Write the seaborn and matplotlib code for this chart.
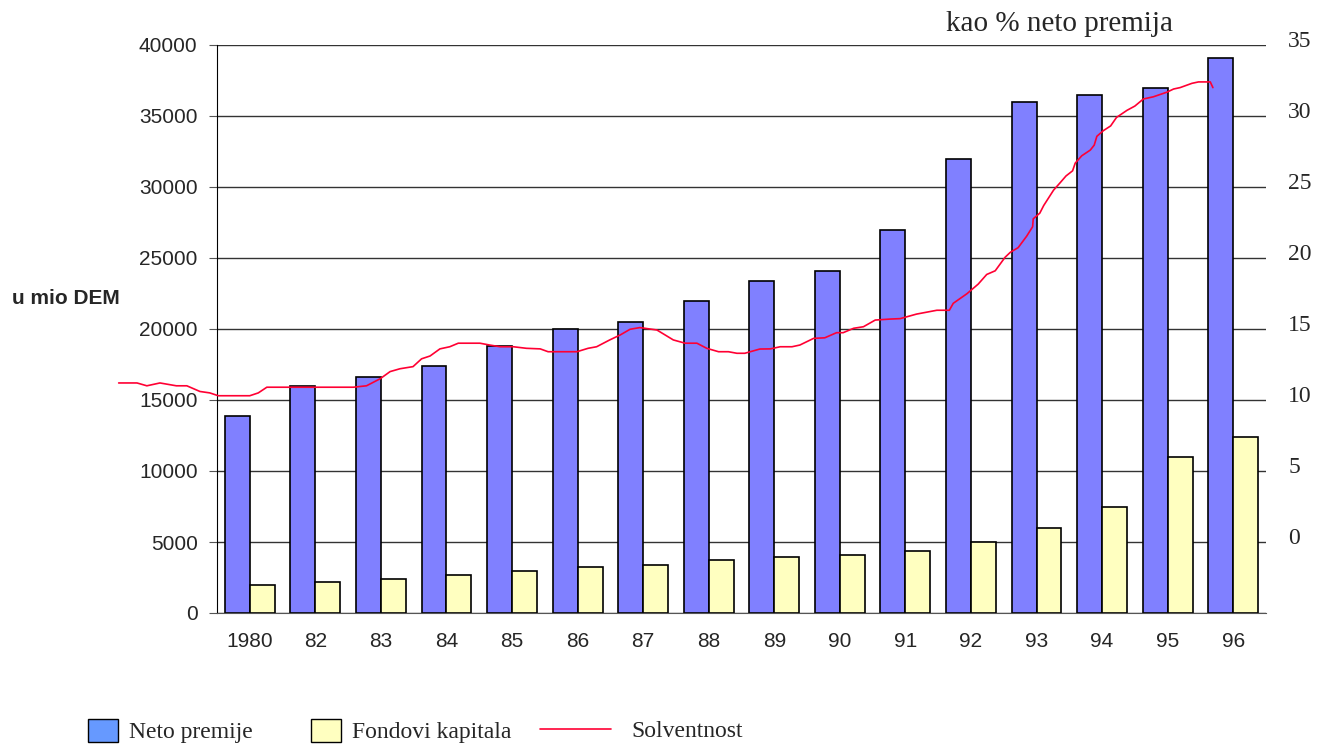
import matplotlib
matplotlib.use('Agg')
import pandas as pd
import matplotlib.pyplot as plt
import matplotlib.transforms as mtransforms
from matplotlib.patches import Patch
from matplotlib.lines import Line2D
import seaborn as sns

# podaci (ocitano sa slike)
godine = ['1980', '82', '83', '84', '85', '86', '87', '88', '89', '90',
          '91', '92', '93', '94', '95', '96']
neto_premije = [13900, 16000, 16600, 17400, 18800, 20000, 20500, 22000,
                23400, 24100, 27000, 32000, 36000, 36500, 37000, 39100]
fondovi_kapitala = [1950, 2150, 2400, 2700, 2950, 3250, 3400, 3750,
                    3950, 4100, 4400, 5000, 6000, 7450, 11000, 12400]

# solventnost (% neto premija), x u jedinicama kategorija
solv_x = [-2.0, -1.72, -1.57, -1.37, -1.12, -0.96, -0.76, -0.61, -0.48, 0.0,
          0.13, 0.26, 1.58, 1.78, 1.99, 2.14, 2.29, 2.49, 2.62, 2.75,
          2.9, 3.05, 3.18, 3.51, 3.66, 3.82, 4.02, 4.22, 4.43, 4.55,
          4.99, 5.16, 5.29, 5.49, 5.65, 5.8, 5.95, 6.21, 6.46, 6.64,
          6.82, 6.97, 7.15, 7.3, 7.43, 7.55, 7.78, 7.94, 8.09, 8.27,
          8.39, 8.6, 8.77, 8.95, 9.05, 9.21, 9.36, 9.54, 9.77, 9.92,
          10.17, 10.48, 10.67, 10.73, 10.94, 11.11, 11.24, 11.37, 11.52, 11.6,
          11.72, 11.85, 11.94, 11.95, 12.05, 12.11, 12.26, 12.36, 12.45, 12.55,
          12.59, 12.69, 12.82, 12.88, 12.92, 13.02, 13.13, 13.22, 13.38, 13.5,
          13.63, 13.78, 13.99, 14.09, 14.19, 14.37, 14.47, 14.65, 14.69]
solv_y = [11.2, 11.2, 11.0, 11.2, 11.0, 11.0, 10.6, 10.5, 10.3, 10.3,
          10.5, 10.9, 10.9, 11.0, 11.5, 12.0, 12.2, 12.35, 12.9, 13.1,
          13.6, 13.75, 14.0, 14.0, 13.87, 13.75, 13.75, 13.64, 13.6, 13.4,
          13.4, 13.64, 13.75, 14.23, 14.58, 14.98, 15.1, 14.93, 14.23, 14.0,
          14.0, 13.64, 13.4, 13.4, 13.29, 13.29, 13.59, 13.6, 13.75, 13.75,
          13.87, 14.34, 14.38, 14.74, 14.74, 15.05, 15.16, 15.63, 15.7, 15.73,
          16.05, 16.32, 16.32, 16.81, 17.49, 18.16, 18.84, 19.1, 20.05, 20.4,
          20.73, 21.54, 22.2, 22.76, 23.16, 23.7, 24.78, 25.3, 25.78, 26.14,
          26.68, 27.2, 27.6, 27.95, 28.57, 28.97, 29.3, 29.9, 30.4, 30.7,
          31.2, 31.35, 31.68, 31.9, 32.0, 32.3, 32.4, 32.4, 32.0]

serije = ['Neto premije', 'Fondovi kapitala']
boje_stupaca = ['#8080FF', '#FFFFC0']
boja_legende_neto = '#6699FF'
boja_linije = '#FF0033'

sns.set_style('white')
plt.rcParams['font.family'] = ['Liberation Sans', 'DejaVu Sans']

df = pd.DataFrame({
    'godina': godine * 2,
    'iznos': neto_premije + fondovi_kapitala,
    'serija': [serije[0]] * len(godine) + [serije[1]] * len(godine),
})

fig = plt.figure(figsize=(13.21, 7.48), dpi=100)
ax = fig.add_axes([217 / 1321, 1 - 613 / 748, (1266 - 217) / 1321, (613 - 45) / 748])

sns.barplot(data=df, x='godina', y='iznos', hue='serija', order=godine,
            hue_order=serije, palette=boje_stupaca, width=0.76, gap=0,
            edgecolor='black', linewidth=1.2, saturation=1, legend=False, ax=ax)

ax.set_ylim(0, 40000)
ax.set_yticks(range(0, 40001, 5000))
ax.yaxis.grid(True, color='#333333', linewidth=1)
ax.set_axisbelow(True)
ax.set_xlabel('')
ax.set_ylabel('')
for s in ['top', 'right']:
    ax.spines[s].set_visible(False)
ax.spines['left'].set_color('black')
ax.spines['bottom'].set_color('#555555')
ax.tick_params(axis='y', left=True, length=6, color='#555555', labelsize=15, pad=8)
ax.tick_params(axis='x', length=0, labelsize=15, pad=14)

ax2 = ax.twinx()
ax2.plot(solv_x, solv_y, color=boja_linije, linewidth=1.2, clip_on=False)
ax2.set_xlim(-0.5, len(godine) - 0.5)
ax2.set_ylim(-5, 35)
ax2.set_yticks(range(0, 36, 5))
ax2.tick_params(axis='y', length=0, pad=16)
for s in ax2.spines.values():
    s.set_visible(False)
pomak = mtransforms.ScaledTranslation(0, 0.06, fig.dpi_scale_trans)
for lbl in ax2.get_yticklabels():
    lbl.set_fontfamily('Liberation Serif')
    lbl.set_fontsize(17)
    lbl.set_transform(lbl.get_transform() + pomak)

fig.text(1060 / 1321, 1 - 24 / 748, 'kao % neto premija', ha='center', va='center',
         family='Liberation Serif', fontsize=21)
fig.text(12 / 1321, 1 - 298 / 748, 'u mio DEM', ha='left', va='center',
         fontsize=15, fontweight='bold')

ruke = [Patch(facecolor=boja_legende_neto, edgecolor='black', linewidth=1),
        Patch(facecolor=boje_stupaca[1], edgecolor='black', linewidth=1)]
fig.legend(ruke, serije, loc='center left', bbox_to_anchor=(88 / 1321, 1 - 731 / 748),
           ncol=2, frameon=False, borderpad=0, borderaxespad=0,
           handlelength=1.27, handleheight=1.15,
           handletextpad=0.45, columnspacing=2.5,
           prop={'family': 'Liberation Serif', 'size': 17})
fig.legend([Line2D([], [], color=boja_linije, linewidth=1.2)], ['Solventnost'],
           loc='center left', bbox_to_anchor=(540 / 1321, 1 - 731 / 748),
           frameon=False, borderpad=0, borderaxespad=0,
           handlelength=3.0, handletextpad=0.85,
           prop={'family': 'Liberation Serif', 'size': 17})

fig.savefig('out.png', dpi=100)
